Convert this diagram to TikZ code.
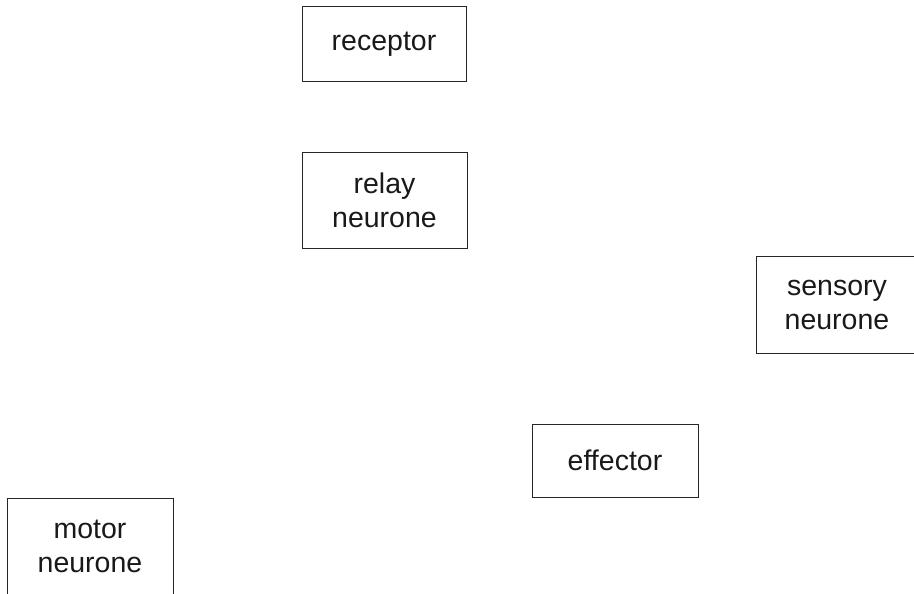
\documentclass[tikz,border=0pt]{standalone}
\usepackage{fontspec}
\setmainfont{Liberation Sans}
\begin{document}
\begin{tikzpicture}[x=1pt,y=-1pt,
  box/.style={draw=black!85, line width=1pt, minimum width=164pt, align=center, inner sep=0pt,
    font=\fontsize{28.5}{34}\selectfont, text=black!90}]
\useasboundingbox (0,0) rectangle (914,594);
\clip (0,0) rectangle (914,594);
\node[box, minimum height=75pt] (receptor) at (384,44.5) {receptor};
\node[box, minimum height=96pt, minimum width=165pt] (relay) at (384.5,200) {relay\\neurone};
\node[box, minimum height=97pt, minimum width=162pt] (sensory) at (837,304.5) {sensory\\neurone};
\node[box, minimum height=73pt, minimum width=166pt] (effector) at (615,460.5) {effector};
\node[box, minimum height=96pt, minimum width=166pt] (motor) at (90,546) {motor\\neurone};
\end{tikzpicture}
\end{document}
